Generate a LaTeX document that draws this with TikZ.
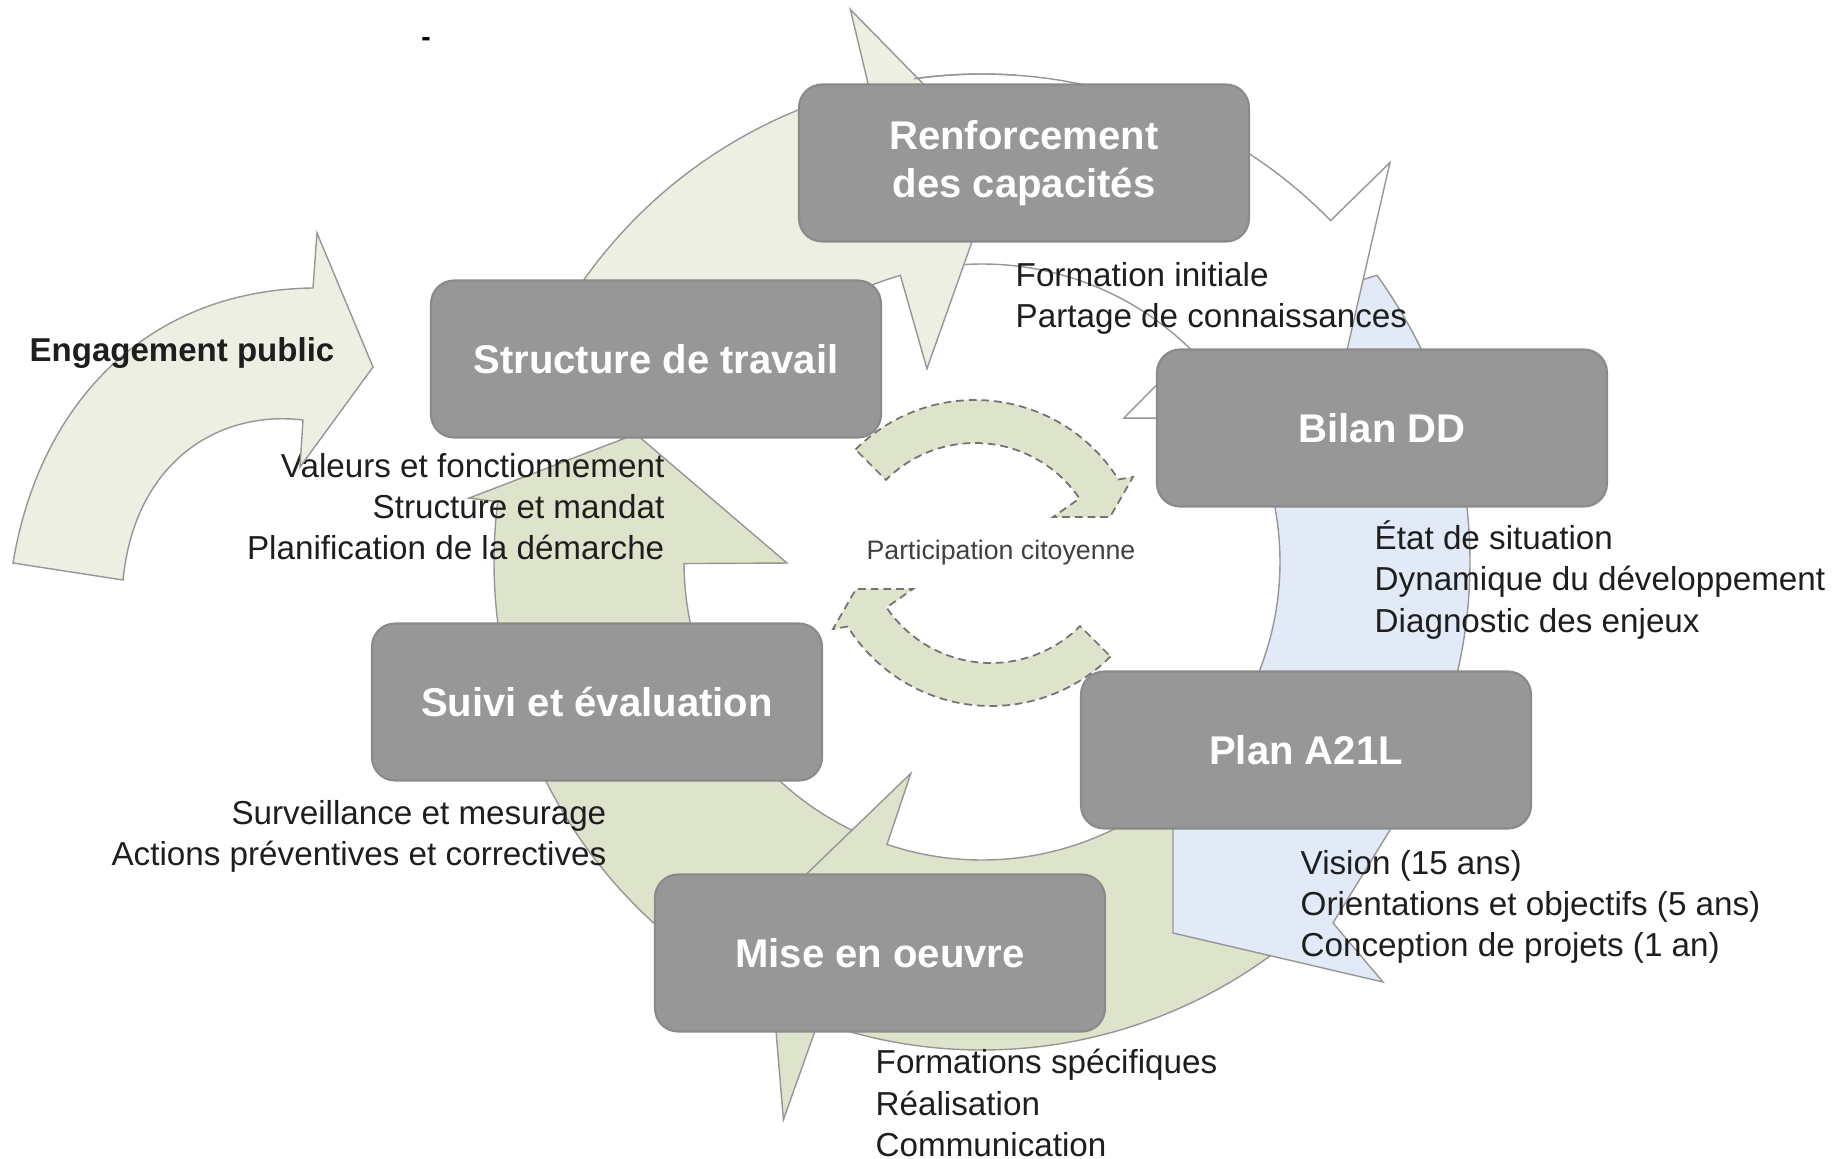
\documentclass[tikz,border=0pt]{standalone}
\usepackage{fontspec}
\setmainfont{Liberation Sans}

\definecolor{stagegray}{RGB}{151,151,151}
\definecolor{stageedge}{RGB}{138,138,138}
\definecolor{ringgreen}{RGB}{221,228,203}
\definecolor{ringpale}{RGB}{237,239,227}
\definecolor{ringblue}{RGB}{226,234,247}
\definecolor{ringline}{RGB}{150,150,150}
\definecolor{notetext}{RGB}{30,30,30}

% #1 style, #2 start, #3/#4 outer barb, #5/#6 tip, #7/#8 inner barb
\newcommand{\cyclearrow}[8]{%
  \draw[#1, shift={(982,562)}]
    (#2:488) arc[start angle=#2, end angle=#3, radius=488]
    -- (#3:#4) -- (#5:#6) -- (#7:#8) -- (#7:298)
    arc[start angle=#7, end angle=#2, radius=298] -- cycle;}

\begin{document}
\begin{tikzpicture}[
    x=0.1mm, y=-0.1mm,
    stage/.style={rectangle, rounded corners=2.3mm, fill=stagegray, draw=stageedge, line width=0.6pt,
                  text=white, font=\fontsize{11.4}{13.7}\selectfont\bfseries,
                  minimum width=45mm, minimum height=15.7mm, align=center},
    notes/.style={inner sep=0pt, text=notetext, font=\fontsize{9.45}{11.7}\selectfont},
    ring/.style={draw=ringline, line width=0.4pt, fill=ringgreen},
    citoyen/.style={draw=black!55, line width=0.5pt, dash pattern=on 2.2pt off 1.4pt, fill=ringgreen},
]

    \useasboundingbox (0,0) rectangle (1845,1159);

    \cyclearrow{ring}{112}{158}{530}{170}{393}{158}{250}
    \cyclearrow{ring}{40}{109.6}{592}{121.6}{412}{108.6}{223}
    \draw[ring, fill=ringblue, shift={(982,562)}]
        (-36:488) arc[start angle=-36, end angle=32.6, radius=488]
        -- (351,361) -- (401,420) -- (191,371) -- (191,268) -- (21.5:298)
        arc[start angle=21.5, end angle=-30, radius=298] -- (318,-262) -- cycle;
    \cyclearrow{ring}{160}{187.1}{517}{200.3}{369}{179.7}{195}
    \cyclearrow{ring, fill=white}{-98}{-44.4}{571}{-22.4}{378}{-45.4}{202}
    \cyclearrow{ring, fill=ringpale}{-155}{-103.4}{568}{-87.4}{400}{-105.9}{201}
    \draw[ringline, line width=0.4pt, shift={(982,562)}] (-98:488) arc[start angle=-98, end angle=-86, radius=488];

    \node[font=\fontsize{8}{9}\selectfont\bfseries] (tiret) at (426,42) {-};

    \node[notes, anchor=west, align=left]  (renfnotes)   at (1015,298) {Formation initiale\\Partage de connaissances};
    \node[notes, anchor=west, align=left]  (bilannotes)  at (1374,580) {État de situation\\Dynamique du développement\\Diagnostic des enjeux};
    \node[notes, anchor=west, align=left]  (plannotes)   at (1300,907) {Vision (15 ans)\\Orientations et objectifs (5 ans)\\Conception de projets (1 an)};
    \node[notes, anchor=west, align=left]  (misenotes)   at (875,1103) {Formations spécifiques\\Réalisation\\Communication};
    \node[notes, anchor=east, align=right] (suivinotes)  at (607,836)  {Surveillance et mesurage\\Actions préventives et correctives};
    \node[notes, anchor=east, align=right] (structnotes) at (665,507)  {Valeurs et fonctionnement\\Structure et mandat\\Planification de la démarche};

    \draw[ring, fill=ringpale]
        (13,563) .. controls (40,400) and (150,290) .. (313,288)
        -- (317,233) -- (373,367) -- (300,467) -- (303,420)
        .. controls (220,410) and (135,460) .. (123,580) -- cycle;
    \node[font=\fontsize{9.4}{11}\selectfont\bfseries, text=notetext] (engagement) at (182,353) {Engagement public};

    \draw[citoyen, shift={(975,569)}]
        (-135:169) arc[start angle=-135, end angle=-32, radius=169]
        -- (158,-92) -- (135,-52) -- (78,-52) -- (-34:126)
        arc[start angle=-34, end angle=-135, radius=126] -- cycle;
    \begin{scope}[rotate around={180:(983,553)}]
        \draw[citoyen, shift={(975,569)}]
            (-135:169) arc[start angle=-135, end angle=-32, radius=169]
            -- (158,-92) -- (135,-52) -- (78,-52) -- (-34:126)
            arc[start angle=-34, end angle=-135, radius=126] -- cycle;
    \end{scope}
    \node[font=\fontsize{7.6}{9}\selectfont, text=black!75] (participation) at (1001,553) {Participation citoyenne};

    \node[stage] (renforcement) at (1024,163) {Renforcement\\des capacités};
    \node[stage] (structure)    at (656,359)  {Structure de travail};
    \node[stage] (bilan)        at (1382,428) {Bilan DD};
    \node[stage] (suivi)        at (597,702)  {Suivi et évaluation};
    \node[stage] (plan)         at (1306,750) {Plan A21L};
    \node[stage] (miseoeuvre)   at (880,953)  {Mise en oeuvre};

\end{tikzpicture}
\end{document}
